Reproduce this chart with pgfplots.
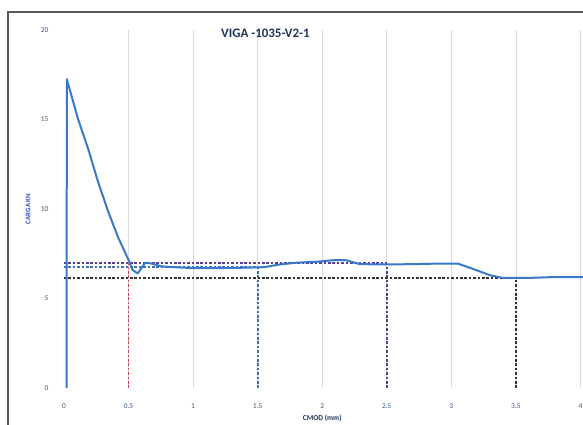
\documentclass[border=0pt]{standalone}
\usepackage{fontspec}
\setmainfont{Carlito}
\usepackage{pgfplots}
\pgfplotsset{compat=1.18}
\definecolor{curveblue}{HTML}{3A78C8}
\definecolor{ticktxt}{HTML}{3D5A80}
\definecolor{titlenavy}{HTML}{1F3558}
\definecolor{ylabblue}{HTML}{3050C8}
\definecolor{gridgray}{HTML}{DADADA}
\definecolor{dashpurple}{HTML}{5A3E98}
\definecolor{dashblue}{HTML}{3A70B8}
\definecolor{dashred}{HTML}{D04858}

\begin{document}
\begin{tikzpicture}[x=1bp,y=1bp]
  \useasboundingbox (0,0) rectangle (583,424);
  \fill[white] (0,0) rectangle (583,424);
  % chart area frame (cut off at right and bottom)
  \draw[line width=1.6bp, black!65] (8,-5) -- (8,412) -- (590,412);

  \begin{axis}[
    at={(64bp,36bp)}, anchor=south west,
    scale only axis,
    width=519bp, height=358bp,
    xmin=0, xmax=4.02, ymin=0, ymax=20,
    axis lines=none,
    clip=false,
  ]
    % gridlines and tick labels
    \pgfplotsinvokeforeach{0.5,1,1.5,2,2.5,3,3.5,4}{
      \draw[gridgray, line width=0.6bp] (axis cs:#1,0) -- (axis cs:#1,20);
    }
    \pgfplotsinvokeforeach{0,0.5,1,1.5,2,2.5,3,3.5,4}{
      \node[font=\fontsize{7.5}{8}\selectfont, text=ticktxt] at ([yshift=-18bp]axis cs:#1,0) {#1};
    }
    \pgfplotsinvokeforeach{0,5,10,15,20}{
      \node[font=\fontsize{7.5}{8}\selectfont, text=ticktxt, anchor=east] at ([xshift=-12bp]axis cs:0,#1) {#1};
    }

    % reference dashed lines
    \addplot[color=dashred, dash pattern=on 2.6bp off 1.8bp, line width=1.8bp] coordinates {(0.5,0) (0.5,7.0)};
    \addplot[color=dashblue, dash pattern=on 2.6bp off 1.8bp, line width=1.8bp] coordinates {(1.5,0) (1.5,6.75)};
    \addplot[color=dashpurple, dash pattern=on 2.6bp off 1.8bp, line width=1.8bp] coordinates {(2.5,0) (2.5,6.95)};
    \addplot[color=black!80, dash pattern=on 2.6bp off 1.8bp, line width=1.6bp] coordinates {(3.5,0) (3.5,6.15)};
    \addplot[color=dashpurple, dash pattern=on 2.6bp off 1.8bp, line width=1.8bp] coordinates {(0,7.0) (2.5,7.0)};
    \addplot[color=dashblue, dash pattern=on 2.6bp off 1.8bp, line width=1.8bp] coordinates {(0,6.78) (1.5,6.78)};
    \addplot[color=black!80, dash pattern=on 2.6bp off 1.8bp, line width=1.6bp] coordinates {(0,6.15) (3.5,6.15)};

    % load - CMOD curve
    \addplot[curveblue, line width=2bp, line join=round] coordinates {
      (0.02,0) (0.022,17.25) (0.11,15.0) (0.19,13.3) (0.26,11.6) (0.34,9.9)
      (0.42,8.4) (0.50,7.15) (0.53,6.6) (0.57,6.4) (0.60,6.7) (0.63,7.0)
      (0.68,6.95) (0.75,6.8) (0.85,6.75) (1.0,6.7) (1.2,6.7) (1.4,6.72)
      (1.55,6.75) (1.67,6.9) (1.8,7.0) (1.95,7.05) (2.1,7.15) (2.18,7.15)
      (2.29,6.92) (2.5,6.9) (2.7,6.92) (2.9,6.95) (3.05,6.95) (3.15,6.7)
      (3.3,6.3) (3.4,6.15) (3.6,6.15) (3.8,6.2) (4.02,6.2)
    };

    % titles
    \node[font=\bfseries\fontsize{13}{14}\selectfont, text=titlenavy]
      at (axis cs:1.56,19.8) {VIGA -1035-V2-1};
    \node[font=\bfseries\fontsize{7}{8}\selectfont, text=ylabblue, rotate=90]
      at ([xshift=-36bp]axis cs:0,10) {CARGA KN};
    \node[font=\bfseries\fontsize{7.5}{8}\selectfont, text=titlenavy]
      at ([yshift=-30bp]axis cs:2,0) {CMOD (mm)};
  \end{axis}
\end{tikzpicture}
\end{document}
